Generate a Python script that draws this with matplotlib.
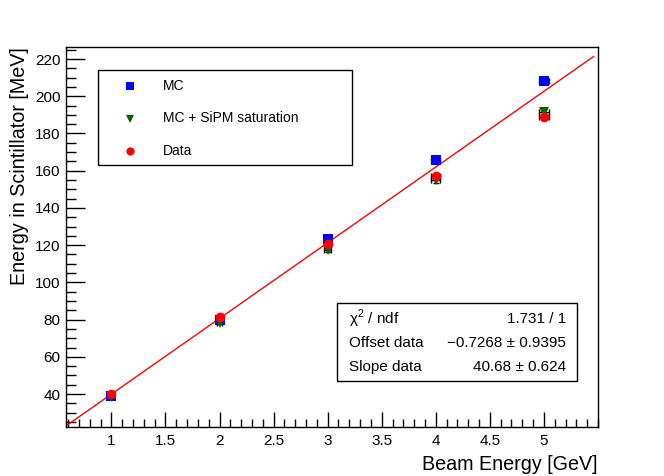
import numpy as np
import matplotlib
matplotlib.use("Agg")
import matplotlib.pyplot as plt
from matplotlib.lines import Line2D
from matplotlib.ticker import MultipleLocator

plt.rcParams['font.family'] = ['Liberation Sans', 'DejaVu Sans']
plt.rcParams['mathtext.fontset'] = 'custom'
plt.rcParams['mathtext.rm'] = 'Liberation Sans'

# beam energies [GeV]
energy = [1, 2, 3, 4, 5]
energy_err = [0.01, 0.02, 0.03, 0.04, 0.05]

# energy in scintillator [MeV]
mc = [38.8, 80.0, 123.5, 165.6, 208.3]
mc_err = [0.4, 0.6, 0.8, 1.0, 1.2]
mc_sipm = [38.3, 78.3, 117.4, 155.0, 191.4]
mc_sipm_err = [0.5, 0.8, 1.0, 1.5, 2.0]
data = [39.9, 81.3, 120.6, 157.4, 188.8]
data_err = [0.5, 0.6, 0.8, 1.0, 1.2]

labels = ["MC", "MC + SiPM saturation", "Data"]

# fit results
chi2_ndf = "1.731 / 1"
offset = -0.7268
offset_err = 0.9395
slope = 40.68
slope_err = 0.624

W, H = 664, 476
fig = plt.figure(figsize=(W / 100, H / 100), dpi=100)
ax = fig.add_axes([0.0994, 0.103, 0.8012, 0.798])

xmin, xmax = 0.58, 5.5
ymin, ymax = 22.3, 226.4

styles = [('s', '#0000ff', 6.5), ('v', '#006600', 7.0), ('o', '#ff0000', 7.0)]


def draw_series(y, yerr, marker, color, size):
    ax.errorbar(energy, y, xerr=energy_err, yerr=yerr, fmt='none',
                ecolor='black', elinewidth=1, capsize=2, capthick=1, zorder=2)
    ax.plot(energy, y, linestyle='none', marker=marker, color=color,
            markersize=size, markeredgewidth=0, zorder=3)


for (y, yerr), (m, c, s) in zip([(mc, mc_err), (mc_sipm, mc_sipm_err), (data, data_err)], styles):
    draw_series(y, yerr, m, c, s)

# fit line
xf = np.linspace(xmin, 5.46, 200)
ax.plot(xf, offset + slope * xf, color='#ff0000', linewidth=1.0, zorder=2.5)

ax.set_xlim(xmin, xmax)
ax.set_ylim(ymin, ymax)
ax.set_xticks([1, 1.5, 2, 2.5, 3, 3.5, 4, 4.5, 5])
ax.set_xticklabels(["1", "1.5", "2", "2.5", "3", "3.5", "4", "4.5", "5"])
ax.xaxis.set_minor_locator(MultipleLocator(0.1))
ax.yaxis.set_major_locator(MultipleLocator(20))
ax.yaxis.set_minor_locator(MultipleLocator(5))
ax.tick_params(which='both', direction='in', top=False, right=False, labelsize=11)
ax.tick_params(axis='y', which='major', length=14, width=1, pad=4)
ax.tick_params(axis='y', which='minor', length=7, width=1)
ax.tick_params(axis='x', which='major', length=11, width=1, pad=5)
ax.tick_params(axis='x', which='minor', length=5.5, width=1)
for s in ax.spines.values():
    s.set_linewidth(1.0)

ax.set_xlabel("Beam Energy [GeV]", fontsize=14.2, loc='right', labelpad=5)
ax.set_ylabel("Energy in Scintillator [MeV]", fontsize=14.2, loc='top', labelpad=4)


def fx(px):
    return px / W


def fy(py):
    return 1 - py / H


# legend box
fig.patches.append(plt.Rectangle((fx(98), fy(165)), (352 - 98) / W, (165 - 70) / H,
                                 transform=fig.transFigure, facecolor='white',
                                 edgecolor='black', linewidth=1.0, zorder=5))
for i, ((m, c, s), lab) in enumerate(zip(styles, labels)):
    yy = fy(86 + 32.5 * i)
    fig.add_artist(Line2D([fx(130)], [yy], marker=m, color=c, markersize=s * 0.85,
                          markeredgewidth=0, linestyle='none',
                          transform=fig.transFigure, zorder=6))
    fig.text(fx(163), yy, lab, fontsize=10, va='center', ha='left', zorder=6)

# stats box
fig.patches.append(plt.Rectangle((fx(337), fy(381)), (577 - 337) / W, (381 - 303) / H,
                                 transform=fig.transFigure, facecolor='white',
                                 edgecolor='black', linewidth=1.0, zorder=5))
rows = [
    ("\u03c7$^{2}$ / ndf", chi2_ndf),
    ("Offset data", f"\u2212{abs(offset):.4f} \u00b1 {offset_err:.4f}"),
    ("Slope data", f"{slope:.2f} \u00b1 {slope_err:.3f}"),
]
for i, (name, val) in enumerate(rows):
    yy = fy(319 + 24 * i)
    fig.text(fx(349), yy, name, fontsize=11, va='center', ha='left', zorder=6)
    fig.text(fx(566), yy, val, fontsize=11, va='center', ha='right', zorder=6)

fig.savefig("out.png", dpi=100)
